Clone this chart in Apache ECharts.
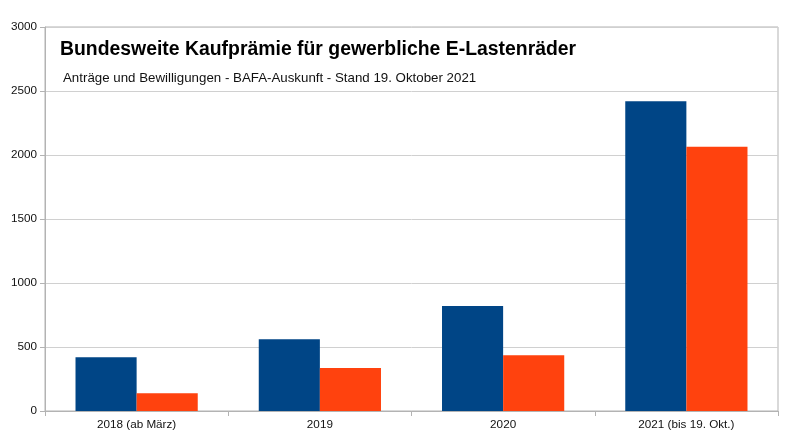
<!DOCTYPE html>
<html>
<head>
<meta charset="utf-8">
<script src="https://cdn.jsdelivr.net/npm/echarts@6/dist/echarts.min.js"></script>
<style>html,body{margin:0;padding:0;background:#fff}#c{width:790px;height:443px}</style>
</head>
<body>
<div id="c"></div>
<script>
var categories = ['2018 (ab März)', '2019', '2020', '2021 (bis 19. Okt.)'];
var antraege = [420, 560, 820, 2420];
var bewilligungen = [138, 336, 435, 2065];
var yTicks = [0, 500, 1000, 1500, 2000, 2500, 3000];

var chart = echarts.init(document.getElementById('c'));
chart.setOption({
  animation: false,
  textStyle: { fontFamily: 'Liberation Sans' },
  title: [{
    text: 'Bundesweite Kaufprämie für gewerbliche E-Lastenräder',
    left: 55, top: 35, padding: 5,
    textStyle: { fontFamily: 'Liberation Sans', fontSize: 19.4, fontWeight: 'bold', color: '#000' }
  }, {
    text: 'Anträge und Bewilligungen - BAFA-Auskunft - Stand 19. Oktober 2021',
    left: 58, top: 67, padding: 5,
    textStyle: { fontFamily: 'Liberation Sans', fontSize: 13.3, fontWeight: 'normal', color: '#111' }
  }],
  grid: { left: 45, right: 12, top: 27, bottom: 32, show: true, borderColor: '#b3b3b3', borderWidth: 1 },
  xAxis: {
    type: 'category', data: categories,
    axisLine: { lineStyle: { color: '#b3b3b3' } },
    axisTick: { show: true, length: 5, lineStyle: { color: '#b3b3b3' } },
    axisLabel: { color: '#111', fontSize: 11.7, margin: 8, fontFamily: 'Liberation Sans' }
  },
  yAxis: {
    type: 'value', min: yTicks[0], max: yTicks[yTicks.length - 1], interval: 500,
    axisLine: { show: true, lineStyle: { color: '#b3b3b3' } },
    axisTick: { show: true, length: 5, lineStyle: { color: '#b3b3b3' } },
    splitLine: { lineStyle: { color: '#d0d0d0' } },
    axisLabel: { color: '#111', fontSize: 11.7, margin: 8, fontFamily: 'Liberation Sans', formatter: function (v) { return String(v); } }
  },
  series: [
    { type: 'bar', name: 'Anträge', data: antraege, itemStyle: { color: '#004586' }, barGap: '0%', barCategoryGap: '33.3%' },
    { type: 'bar', name: 'Bewilligungen', data: bewilligungen, itemStyle: { color: '#ff420e' }, barGap: '0%', barCategoryGap: '33.3%' }
  ]
});
</script>
</body>
</html>
